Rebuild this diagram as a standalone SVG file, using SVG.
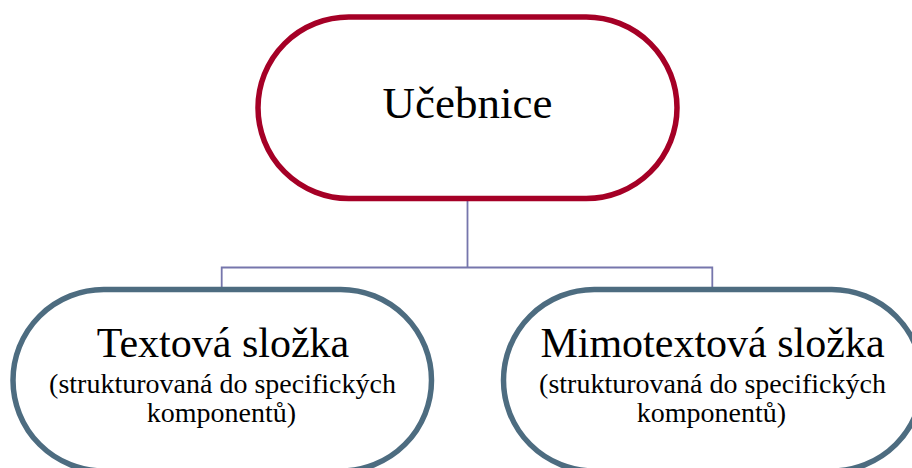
<svg xmlns="http://www.w3.org/2000/svg" width="912" height="468" viewBox="0 0 912 468">
<style>
.top{fill:#fff;stroke:#A50026;stroke-width:5.5}
.sub{fill:#fff;stroke:#4D6C80;stroke-width:5.5}
.conn{fill:none;stroke:#7676AC;stroke-width:1.8}
text{font-family:"Liberation Serif","Times New Roman",serif;fill:#000;text-anchor:middle}
.t1{font-size:45px}
.t2{font-size:42px}
.t3{font-size:28px}
</style>
<rect width="912" height="468" fill="#fff"/>
<g id="connectors">
<path class="conn" d="M467.5 199 V267.5 M221.7 289 V267.5 H712.3 V289"/>
</g>
<g id="node-ucebnice">
<rect class="top" x="258" y="17" width="419" height="181.5" rx="90.75" ry="90.75"/>
<text class="t1" x="467.5" y="118">Učebnice</text>
</g>
<g id="node-textova">
<rect class="sub" x="13" y="289.5" width="418.5" height="181.5" rx="90.75" ry="90.75"/>
<text class="t2" x="223" y="357">Textová složka</text>
<text class="t3" x="222.5" y="393">(strukturovaná do specifických</text>
<text class="t3" x="221.5" y="422">komponentů)</text>
</g>
<g id="node-mimotextova">
<rect class="sub" x="503.5" y="289.5" width="419" height="181.5" rx="90.75" ry="90.75"/>
<text class="t2" x="712.5" y="357">Mimotextová složka</text>
<text class="t3" x="712.5" y="393">(strukturovaná do specifických</text>
<text class="t3" x="711.5" y="422">komponentů)</text>
</g>
</svg>
